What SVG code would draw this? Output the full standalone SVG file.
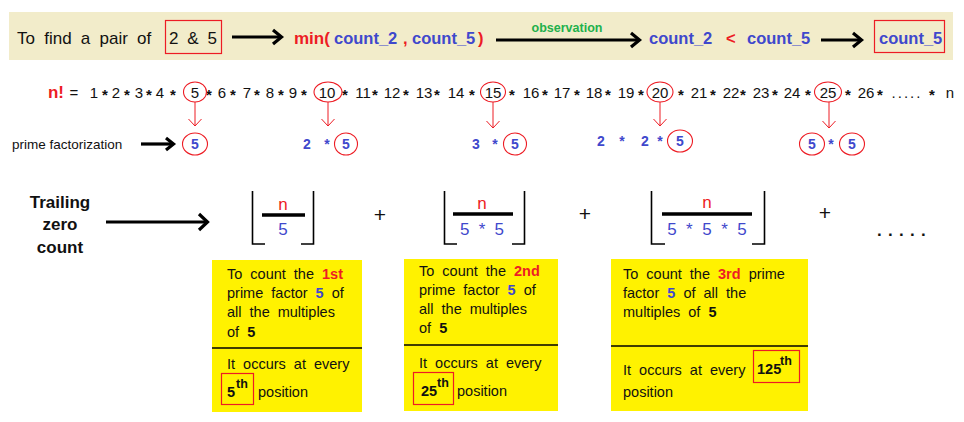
<svg xmlns="http://www.w3.org/2000/svg" width="964" height="422" viewBox="0 0 964 422">
<style>
text{font-family:"Liberation Sans",Arial,sans-serif;fill:#111}
.top{font-size:17px}
.b{font-weight:bold}
.red{fill:#ed1c24}
.blue{fill:#3f48cc}
.grn{fill:#22b14c}
.row{font-size:15px}
.ast{font-weight:bold;font-size:15px}
.fac{font-size:14px;font-weight:bold;fill:#3f48cc}
.frac{font-size:17px}
.plus{font-size:21px}
.dots{font-size:17px;font-weight:bold;letter-spacing:6.3px}
.bx{font-size:14.5px;word-spacing:4px}
.thick{stroke:#000;stroke-width:3.2;fill:none}
.head{stroke:#000;stroke-width:3.2;fill:none;stroke-linejoin:miter}
.thin{stroke:#ed1c24;stroke-width:1;fill:none}
.circ{stroke:#ed1c24;stroke-width:1.1;fill:none}
.rbox{stroke:#ed1c24;stroke-width:1.2;fill:none}
.brk{stroke:#000;stroke-width:1.6;fill:none}
.bar{stroke:#000;stroke-width:3.5}
.ybox{fill:#fff200}
.div{stroke:#000;stroke-width:1.5}
</style>

<g id="header">
  <rect x="9" y="12" width="944" height="48" fill="#f2ecca"/>
  <text class="top" x="17" y="43.5" word-spacing="4.5">To find a pair of</text>
  <rect class="rbox" x="165.5" y="20.5" width="56" height="33"/>
  <text class="top" x="193" y="43.5" text-anchor="middle" word-spacing="4.2">2 &amp; 5</text>
  <text class="top b red" x="294" y="43.5">min(</text>
  <text class="b blue" x="334" y="43.5" font-size="16.5">count_2</text>
  <text class="b red" x="403" y="43.5" font-size="16.5">,</text>
  <text class="b blue" x="412" y="43.5" font-size="16.5">count_5</text>
  <text class="b red" x="478" y="43.5" font-size="16.5">)</text>
  <text class="b grn" x="567" y="32" font-size="12.5" text-anchor="middle">observation</text>
  <text class="b blue" x="649" y="43.5" font-size="16.5">count_2</text>
  <text class="b red" x="726" y="43.5" font-size="16.5">&lt;</text>
  <text class="b blue" x="747" y="43.5" font-size="16.5">count_5</text>
  <rect class="rbox" x="874.5" y="20.5" width="70" height="32"/>
  <text class="b blue" x="879" y="43.5" font-size="16.5">count_5</text>
</g>

<g id="factorial-row">
  <text class="row" y="97.5" text-anchor="middle"><tspan x="56" class="b red" font-size="17">n!</tspan><tspan x="74">=</tspan><tspan x="94">1</tspan><tspan x="116">2</tspan><tspan x="139">3</tspan><tspan x="160">4</tspan><tspan x="195">5</tspan><tspan x="222">6</tspan><tspan x="247">7</tspan><tspan x="270">8</tspan><tspan x="293">9</tspan><tspan x="327">10</tspan><tspan x="363">11</tspan><tspan x="392">12</tspan><tspan x="424">13</tspan><tspan x="456">14</tspan><tspan x="493">15</tspan><tspan x="531">16</tspan><tspan x="562">17</tspan><tspan x="594">18</tspan><tspan x="626">19</tspan><tspan x="660">20</tspan><tspan x="699">21</tspan><tspan x="731">22</tspan><tspan x="761">23</tspan><tspan x="792">24</tspan><tspan x="828">25</tspan><tspan x="866">26</tspan><tspan x="907" letter-spacing="2">.....</tspan><tspan x="950">n</tspan></text>
  <text class="ast" y="99.5" text-anchor="middle"><tspan x="105">*</tspan><tspan x="127">*</tspan><tspan x="149">*</tspan><tspan x="173">*</tspan><tspan x="209">*</tspan><tspan x="233">*</tspan><tspan x="257">*</tspan><tspan x="281">*</tspan><tspan x="304">*</tspan><tspan x="345">*</tspan><tspan x="375">*</tspan><tspan x="406">*</tspan><tspan x="437">*</tspan><tspan x="472">*</tspan><tspan x="512">*</tspan><tspan x="545">*</tspan><tspan x="577">*</tspan><tspan x="608">*</tspan><tspan x="641">*</tspan><tspan x="681">*</tspan><tspan x="713">*</tspan><tspan x="743">*</tspan><tspan x="775">*</tspan><tspan x="808">*</tspan><tspan x="848">*</tspan><tspan x="880">*</tspan><tspan x="932">*</tspan></text>
  <ellipse class="circ" cx="195" cy="92" rx="11.5" ry="10"/>
  <ellipse class="circ" cx="328" cy="92" rx="14" ry="10"/>
  <ellipse class="circ" cx="493" cy="92" rx="12.5" ry="10"/>
  <ellipse class="circ" cx="660" cy="92" rx="13" ry="10"/>
  <ellipse class="circ" cx="828" cy="92" rx="13.5" ry="10"/>
</g>

<g id="prime-factorization">
  <text x="12" y="149" font-size="13.5">prime factorization</text>
  <g id="pf-5">
    <ellipse class="circ" cx="195" cy="144" rx="12.5" ry="11"/>
    <text class="fac" x="195" y="149" text-anchor="middle">5</text>
  </g>
  <g id="pf-10">
    <text class="fac" x="307" y="149" text-anchor="middle">2</text>
    <text class="fac" x="327" y="149" text-anchor="middle">*</text>
    <ellipse class="circ" cx="346" cy="144" rx="11.5" ry="11"/>
    <text class="fac" x="346" y="149" text-anchor="middle">5</text>
  </g>
  <g id="pf-15">
    <text class="fac" x="476" y="149" text-anchor="middle">3</text>
    <text class="fac" x="495" y="149" text-anchor="middle">*</text>
    <ellipse class="circ" cx="515" cy="144" rx="11.5" ry="11"/>
    <text class="fac" x="515" y="149" text-anchor="middle">5</text>
  </g>
  <g id="pf-20">
    <text class="fac" x="601" y="146" text-anchor="middle">2</text>
    <text class="fac" x="622" y="146" text-anchor="middle">*</text>
    <text class="fac" x="645" y="146" text-anchor="middle">2</text>
    <text class="fac" x="660" y="146" text-anchor="middle">*</text>
    <ellipse class="circ" cx="680" cy="141" rx="12.5" ry="11"/>
    <text class="fac" x="680" y="146" text-anchor="middle">5</text>
  </g>
  <g id="pf-25">
    <ellipse class="circ" cx="812" cy="144" rx="12.5" ry="11"/>
    <text class="fac" x="812" y="149" text-anchor="middle">5</text>
    <text class="fac" x="831" y="149" text-anchor="middle">*</text>
    <ellipse class="circ" cx="852" cy="144" rx="12.5" ry="11"/>
    <text class="fac" x="852" y="149" text-anchor="middle">5</text>
  </g>
</g>

<g id="trailing-label">
  <text class="b" font-size="17" text-anchor="middle"><tspan x="60" y="208">Trailing</tspan><tspan x="60" y="230">zero</tspan><tspan x="60" y="252.5">count</tspan></text>
</g>

<g id="term-1">
  <path class="brk" d="M252.5,191 V244 H265"/>
  <path class="brk" d="M301,244 H313.5 V191"/>
  <line class="bar" x1="262" y1="215" x2="305" y2="215"/>
  <text class="frac red" x="283" y="210" text-anchor="middle">n</text>
  <text class="frac blue" x="283" y="235" text-anchor="middle">5</text>
</g>
<text class="plus" x="380" y="222" text-anchor="middle">+</text>
<g id="term-2">
  <path class="brk" d="M444.5,191 V244 H457"/>
  <path class="brk" d="M512,244 H524.5 V191"/>
  <line class="bar" x1="453" y1="214" x2="513" y2="214"/>
  <text class="frac red" x="482" y="209" text-anchor="middle">n</text>
  <text class="frac blue" x="482" y="235" text-anchor="middle" word-spacing="4.5">5 * 5</text>
</g>
<text class="plus" x="585" y="221" text-anchor="middle">+</text>
<g id="term-3">
  <path class="brk" d="M651.5,191 V244 H665"/>
  <path class="brk" d="M752,244 H764.5 V191"/>
  <line class="bar" x1="662" y1="214" x2="752" y2="214"/>
  <text class="frac red" x="707" y="208" text-anchor="middle">n</text>
  <text class="frac blue" x="707" y="234.5" text-anchor="middle" word-spacing="4.8">5 * 5 * 5</text>
</g>
<text class="plus" x="825" y="220" text-anchor="middle">+</text>
<text class="dots" x="877" y="235.5">.....</text>

<g id="box-1">
  <rect class="ybox" x="212" y="260" width="150" height="152"/>
  <line class="div" x1="212" y1="348" x2="362" y2="348"/>
  <text class="bx" x="227" y="279">To count the <tspan class="b red">1st</tspan></text>
  <text class="bx" x="227" y="298" word-spacing="5">prime factor <tspan class="b blue">5</tspan> of</text>
  <text class="bx" x="227" y="317" word-spacing="5.5">all the multiples</text>
  <text class="bx" x="227" y="336.5">of <tspan class="b">5</tspan></text>
  <text class="bx" x="227" y="369">It occurs at every</text>
  <rect class="rbox" x="221.5" y="373.5" width="32" height="31"/>
  <text class="bx b" x="227" y="397">5</text>
  <text class="b" x="236" y="388" font-size="12.5">th</text>
  <text class="bx" x="258" y="397">position</text>
</g>

<g id="box-2">
  <rect class="ybox" x="404" y="259" width="154" height="152"/>
  <line class="div" x1="404" y1="345" x2="558" y2="345"/>
  <text class="bx" x="419" y="276">To count the <tspan class="b red">2nd</tspan></text>
  <text class="bx" x="419" y="295" word-spacing="5">prime factor <tspan class="b blue">5</tspan> of</text>
  <text class="bx" x="419" y="314" word-spacing="5.5">all the multiples</text>
  <text class="bx" x="419" y="333">of <tspan class="b">5</tspan></text>
  <text class="bx" x="419" y="368">It occurs at every</text>
  <rect class="rbox" x="413.5" y="372.5" width="40" height="32"/>
  <text class="bx b" x="421" y="396">25</text>
  <text class="b" x="437" y="387" font-size="12.5">th</text>
  <text class="bx" x="457" y="396">position</text>
</g>

<g id="box-3">
  <rect class="ybox" x="611" y="259" width="197" height="152"/>
  <line class="div" x1="611" y1="346" x2="808" y2="346"/>
  <text class="bx" x="623" y="279">To count the <tspan class="b red">3rd</tspan> prime</text>
  <text class="bx" x="623" y="298" word-spacing="5">factor <tspan class="b blue">5</tspan> of all the</text>
  <text class="bx" x="623" y="317">multiples of <tspan class="b">5</tspan></text>
  <text class="bx" x="623" y="374.5">It occurs at every</text>
  <rect class="rbox" x="753.5" y="350.5" width="46" height="32"/>
  <text class="bx b" x="757" y="374">125</text>
  <text class="b" x="780" y="365" font-size="12.5">th</text>
  <text class="bx" x="623" y="397">position</text>
</g>

<g id="connectors">
  <line class="thick" x1="232" y1="37" x2="281" y2="37"/>
  <polyline class="head" points="273,30 281.5,37 273,44"/>
  <line class="thick" x1="496" y1="40" x2="639" y2="40"/>
  <polyline class="head" points="631,33 639.5,40 631,47"/>
  <line class="thick" x1="821" y1="40" x2="861" y2="40"/>
  <polyline class="head" points="853,33 861.5,40 853,47"/>
  <line class="thick" x1="141" y1="144" x2="173" y2="144"/>
  <polyline class="head" points="166,138 173.5,144 166,150"/>
  <line class="thick" x1="106" y1="222" x2="207" y2="222"/>
  <polyline class="head" points="199,214 207.5,222 199,230"/>
  <line class="thin" x1="195" y1="102" x2="195" y2="126"/>
  <polyline class="thin" points="188.5,119 195,126 201.5,119"/>
  <line class="thin" x1="328" y1="102" x2="328" y2="126"/>
  <polyline class="thin" points="321.5,119 328,126 334.5,119"/>
  <line class="thin" x1="493" y1="102" x2="493" y2="128"/>
  <polyline class="thin" points="486.5,121 493,128 499.5,121"/>
  <line class="thin" x1="660" y1="102" x2="660" y2="126"/>
  <polyline class="thin" points="653.5,119 660,126 666.5,119"/>
  <line class="thin" x1="829" y1="102" x2="829" y2="128"/>
  <polyline class="thin" points="822.5,121 829,128 835.5,121"/>
</g>
</svg>
